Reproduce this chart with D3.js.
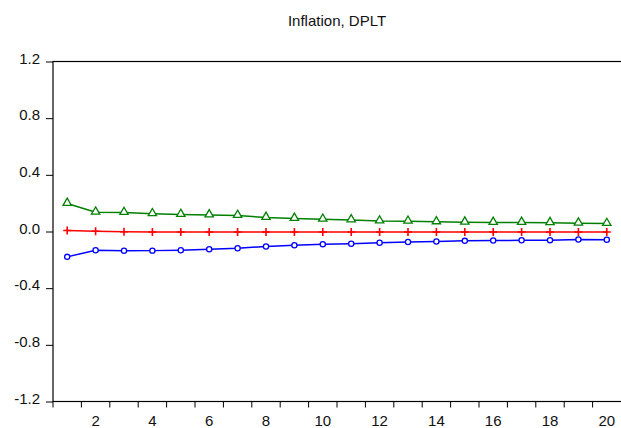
<!DOCTYPE html>
<html>
<head>
<meta charset="utf-8">
<script src="https://cdn.jsdelivr.net/npm/d3@7"></script>
<style>
  body { margin: 0; background: #fff; }
  text { font-family: "Liberation Sans", Arial, sans-serif; }
</style>
</head>
<body>
<script>
var periods = d3.range(1, 21);
var upper = [0.198, 0.136, 0.134, 0.125, 0.120, 0.117, 0.113, 0.099, 0.092, 0.086,
             0.082, 0.074, 0.072, 0.068, 0.066, 0.064, 0.064, 0.062, 0.059, 0.056];
var mid   = [0.007, 0.002, -0.002, -0.004, -0.004, -0.004, -0.004, -0.004, -0.004, -0.004,
             -0.004, -0.004, -0.004, -0.004, -0.004, -0.004, -0.004, -0.004, -0.004, -0.004];
var lower = [-0.179, -0.132, -0.136, -0.135, -0.132, -0.125, -0.118, -0.106, -0.097, -0.090,
             -0.086, -0.079, -0.074, -0.071, -0.066, -0.064, -0.062, -0.061, -0.057, -0.058];
var yTicks = [1.2, 0.8, 0.4, 0.0, -0.4, -0.8, -1.2];
var xLabels = [2, 4, 6, 8, 10, 12, 14, 16, 18, 20];

var w = 621, h = 428;
var padL = 53, padR = 621, padT = 61.5, padB = 401.5;

var svg = d3.select("body").append("svg")
    .attr("width", w)
    .attr("height", h);

var x = d3.scaleBand().domain(periods).range([padL, padR]);
var y = d3.scaleLinear().domain([-1.2, 1.2]).range([padB, padT]);

// title
svg.append("text")
   .attr("x", (padL + padR) / 2)
   .attr("y", 26)
   .attr("text-anchor", "middle")
   .attr("font-size", 15)
   .attr("fill", "#111")
   .text("Inflation, DPLT");

// frame
svg.append("rect")
   .attr("x", padL).attr("y", padT)
   .attr("width", padR - padL + 2).attr("height", padB - padT)
   .attr("fill", "none").attr("stroke", "#000").attr("stroke-width", 1.2);

// y axis (ascii hyphen like the original)
var fmt = d3.format(".1f");
var yAxis = d3.axisLeft(y).tickValues(yTicks).tickSize(7).tickPadding(6)
    .tickFormat(function(d) { return fmt(d).replace("\u2212", "-"); });
var gy = svg.append("g").attr("transform", "translate(" + padL + ",0)").call(yAxis);
gy.select(".domain").remove();
gy.selectAll("text")
  .attr("font-size", 15)
  .attr("font-family", "Liberation Sans, Arial, sans-serif")
  .attr("fill", "#111")
  .attr("dy", "0.12em");

// x axis: ticks at period boundaries, labels at centers
var bounds = periods.map(function(p) { return x(p); });
svg.selectAll("line.xt")
   .data(bounds)
   .enter()
   .append("line")
   .attr("class", "xt")
   .attr("x1", function(d) { return d; })
   .attr("x2", function(d) { return d; })
   .attr("y1", padB)
   .attr("y2", padB + 6)
   .attr("stroke", "#000");

svg.selectAll("text.xl")
   .data(xLabels)
   .enter()
   .append("text")
   .attr("class", "xl")
   .attr("x", function(d) { return x(d) + x.bandwidth() / 2; })
   .attr("y", 426)
   .attr("text-anchor", "middle")
   .attr("font-size", 15)
   .attr("fill", "#111")
   .text(function(d) { return d; });

var cx = function(i) { return x(periods[i]) + x.bandwidth() / 2; };
var line = d3.line()
    .x(function(d, i) { return cx(i); })
    .y(function(d) { return y(d); });

// green upper
svg.append("path").datum(upper)
   .attr("d", line).attr("fill", "none").attr("stroke", "#008000").attr("stroke-width", 1.5);
svg.selectAll("path.tri")
   .data(upper)
   .enter()
   .append("path")
   .attr("class", "tri")
   .attr("d", d3.symbol().type(d3.symbolTriangle).size(30))
   .attr("transform", function(d, i) { return "translate(" + cx(i) + "," + (y(d) - 0.5) + ")"; })
   .attr("fill", "#fff").attr("stroke", "#008000").attr("stroke-width", 1.3);

// red mid
svg.append("path").datum(mid)
   .attr("d", line).attr("fill", "none").attr("stroke", "#ff0000").attr("stroke-width", 1.5);
svg.selectAll("path.plus")
   .data(mid)
   .enter()
   .append("path")
   .attr("class", "plus")
   .attr("d", function(d, i) {
       var px = cx(i), py = y(d);
       return "M" + (px - 4) + "," + py + "H" + (px + 4) + "M" + px + "," + (py - 4) + "V" + (py + 4);
   })
   .attr("stroke", "#ff0000").attr("stroke-width", 1.6);

// blue lower
svg.append("path").datum(lower)
   .attr("d", line).attr("fill", "none").attr("stroke", "#0000ff").attr("stroke-width", 1.5);
svg.selectAll("circle.dot")
   .data(lower)
   .enter()
   .append("circle")
   .attr("class", "dot")
   .attr("cx", function(d, i) { return cx(i); })
   .attr("cy", function(d) { return y(d); })
   .attr("r", 2.6)
   .attr("fill", "#fff").attr("stroke", "#0000ff").attr("stroke-width", 1.3);
</script>
</body>
</html>
